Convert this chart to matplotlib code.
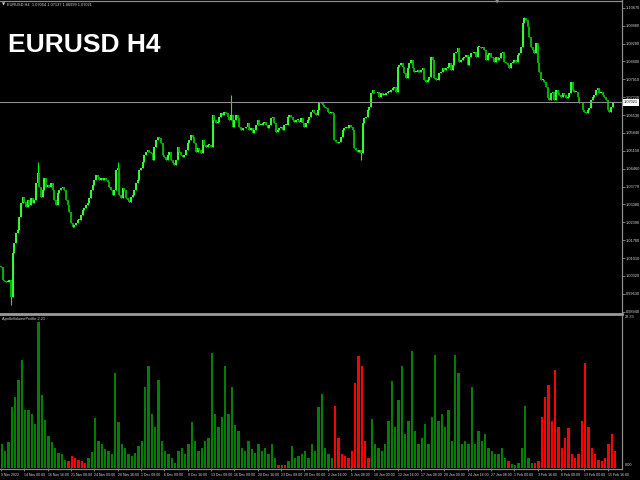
import matplotlib
matplotlib.use("Agg")
import matplotlib.pyplot as plt
from matplotlib.lines import Line2D
import numpy as np

# ---------------- data (closes, left to right) ----------------
# first half of the chart: closes at the even read positions and at the odd ones
part1_even = [
    1.0067, 1.0014, 1.0010, 0.9952, 1.0158, 1.0209, 1.0312, 1.0318, 1.0325, 1.0331,
    1.0325, 1.0428, 1.0338, 1.0409, 1.0383, 1.0389, 1.0325, 1.0351, 1.0370, 1.0364,
    1.0306, 1.0235, 1.0229, 1.0248, 1.0267, 1.0293, 1.0312, 1.0364, 1.0402, 1.0415,
    1.0409, 1.0409, 1.0396, 1.0364, 1.0364, 1.0447, 1.0331, 1.0364, 1.0325, 1.0338,
    1.0364, 1.0402, 1.0447, 1.0499, 1.0518, 1.0505, 1.0531, 1.0569, 1.0544, 1.0492,
    1.0499, 1.0479, 1.0460, 1.0531, 1.0499, 1.0499, 1.0544, 1.0576, 1.0544, 1.0525,
    1.0505, 1.0537, 1.0537, 1.0531, 1.0634, 1.0627, 1.0660, 1.0666, 1.0647, 1.0653,
    1.0634, 1.0640, 1.0595, 1.0602, 1.0621, 1.0602, 1.0595, 1.0634, 1.0615, 1.0627,
    1.0602, 1.0640, 1.0621, 1.0595, 1.0608, 1.0615, 1.0647, 1.0647, 1.0627, 1.0634,
    1.0640, 1.0608, 1.0634, 1.0666, 1.0660, 1.0672, 1.0698,
]
part1_odd = [
    1.0016, 1.0010, 1.0016, 1.0119, 1.0196, 1.0261, 1.0338, 1.0299, 1.0306, 1.0312,
    1.0389, 1.0376, 1.0364, 1.0376, 1.0376, 1.0364, 1.0306, 1.0364, 1.0376, 1.0325,
    1.0280, 1.0222, 1.0235, 1.0248, 1.0286, 1.0306, 1.0331, 1.0383, 1.0422, 1.0402,
    1.0402, 1.0402, 1.0376, 1.0344, 1.0441, 1.0344, 1.0370, 1.0331, 1.0318, 1.0344,
    1.0389, 1.0441, 1.0473, 1.0511, 1.0511, 1.0479, 1.0557, 1.0563, 1.0499, 1.0479,
    1.0511, 1.0467, 1.0479, 1.0511, 1.0492, 1.0518, 1.0557, 1.0569, 1.0511, 1.0518,
    1.0557, 1.0531, 1.0537, 1.0653, 1.0621, 1.0647, 1.0653, 1.0660, 1.0634, 1.0608,
    1.0653, 1.0608, 1.0602, 1.0608, 1.0595, 1.0582, 1.0615, 1.0615, 1.0621, 1.0615,
    1.0615, 1.0647, 1.0589, 1.0602, 1.0595, 1.0615, 1.0653, 1.0634, 1.0634, 1.0627,
    1.0621, 1.0621, 1.0647, 1.0672, 1.0653, 1.0704,
]
# second half
part2_odd = [
    1.0692, 1.0679, 1.0660, 1.0660, 1.0550, 1.0550, 1.0595, 1.0608, 1.0615, 1.0595,
    1.0518, 1.0518, 1.0621, 1.0647, 1.0685, 1.0750, 1.0737, 1.0724, 1.0730, 1.0737,
    1.0743, 1.0756, 1.0743, 1.0846, 1.0840, 1.0795, 1.0853, 1.0833, 1.0820, 1.0820,
    1.0833, 1.0782, 1.0801, 1.0865, 1.0788, 1.0814, 1.0833, 1.0833, 1.0853, 1.0846,
    1.0897, 1.0859, 1.0872, 1.0885, 1.0878, 1.0891, 1.0878, 1.0917, 1.0917, 1.0865,
    1.0891, 1.0872, 1.0878, 1.0872, 1.0897, 1.0853, 1.0833, 1.0859, 1.0859, 1.0891,
    1.1007, 1.1020, 1.0955, 1.0904, 1.0930, 1.0820, 1.0788, 1.0762, 1.0711, 1.0743,
    1.0750, 1.0730, 1.0737, 1.0718, 1.0737, 1.0750, 1.0743, 1.0698, 1.0672, 1.0660,
    1.0679, 1.0724, 1.0750, 1.0737, 1.0730, 1.0711, 1.0666, 1.0704,
]
part2_even = [
    1.0685, 1.0666, 1.0666, 1.0557, 1.0544, 1.0569, 1.0602, 1.0602, 1.0608, 1.0525,
    1.0511, 1.0505, 1.0640, 1.0672, 1.0737, 1.0737, 1.0743, 1.0737, 1.0730, 1.0743,
    1.0750, 1.0762, 1.0840, 1.0853, 1.0814, 1.0833, 1.0865, 1.0820, 1.0827, 1.0827,
    1.0788, 1.0788, 1.0878, 1.0795, 1.0788, 1.0820, 1.0827, 1.0840, 1.0827, 1.0891,
    1.0911, 1.0865, 1.0878, 1.0846, 1.0891, 1.0897, 1.0917, 1.0911, 1.0904, 1.0885,
    1.0878, 1.0859, 1.0865, 1.0891, 1.0859, 1.0846, 1.0853, 1.0865, 1.0885, 1.0917,
    1.1026, 1.0994, 1.0917, 1.0891, 1.0853, 1.0788, 1.0782, 1.0718, 1.0737, 1.0711,
    1.0737, 1.0724, 1.0730, 1.0724, 1.0782, 1.0743, 1.0724, 1.0698, 1.0666, 1.0672,
    1.0711, 1.0730, 1.0756, 1.0743, 1.0724, 1.0672, 1.0685, 1.0702,
]
first_open = 1.0070

# a few visible long wicks: bar index -> extreme price
wick_index = [6, 22, 70, 138, 216, 314]
wick_price = [0.9920, 1.0473, 1.0470, 1.0730, 1.0479, 1.1030]

volume = [
    3.5, 2.5, 3.8, 9.0, 10.5, 13.0, 16.0, 8.5, 8.5, 8.0,
    6.5, 21.6, 10.8, 7.1, 4.8, 3.8, 3.0, 2.2, 2.0, 1.2,
    1.0, 1.8, 1.5, 1.2, 1.0, 0.8, 1.5, 2.3, 7.4, 4.0,
    3.5, 2.8, 2.5, 2.0, 14.0, 6.8, 3.5, 3.0, 2.0, 1.8,
    2.2, 3.2, 4.0, 12.0, 15.0, 8.0, 6.0, 13.0, 4.0, 2.5,
    2.0, 1.5, 0.8, 2.5, 3.0, 2.0, 3.5, 6.8, 4.0, 2.5,
    3.0, 4.0, 4.5, 17.0, 8.0, 6.0, 7.5, 15.0, 8.0, 12.0,
    6.3, 5.5, 3.0, 2.5, 4.0, 2.8, 2.2, 3.5, 2.5, 3.0,
    2.0, 3.5, 1.5, 0.5, 0.4, 0.5, 1.0, 3.3, 1.5, 1.8,
    2.0, 2.5, 1.5, 3.6, 2.5, 9.0, 11.0, 3.0, 2.0, 1.5,
    9.1, 4.5, 2.0, 1.8, 1.5, 2.5, 12.5, 16.5, 15.0, 4.0,
    1.5, 7.2, 3.5, 3.0, 2.5, 3.5, 7.0, 12.9, 6.0, 10.0,
    15.0, 5.0, 7.0, 17.3, 5.5, 3.5, 4.5, 6.5, 3.5, 7.5,
    16.7, 7.0, 8.0, 6.0, 8.5, 4.0, 16.7, 14.0, 3.5, 4.0,
    3.5, 12.0, 3.5, 5.5, 4.0, 5.0, 3.0, 2.5, 2.0, 2.0,
    3.0, 1.5, 1.0, 0.6, 0.4, 0.8, 3.0, 9.1, 1.5, 0.8,
    0.8, 1.0, 7.5, 10.5, 12.3, 7.0, 14.5, 6.0, 3.0, 4.5,
    5.9, 2.0, 1.5, 2.0, 7.0, 15.5, 6.0, 3.0, 2.0, 1.2,
    1.0, 1.5, 3.5, 5.0, 2.5,
]
red_ranges = [(20, 25), (83, 83), (85, 85), (100, 110), (152, 152), (160, 184)]

price_ticks = [1.10670, 1.09980, 1.09290, 1.08600, 1.07910, 1.07220, 1.06530,
               1.05840, 1.05150, 1.04460, 1.03770, 1.03080, 1.02390, 1.01700,
               1.01010, 1.00320, 0.99630, 0.98940]
current_price = 1.07021

date_labels = ["9 Nov 2022", "14 Nov 00:00", "16 Nov 16:00", "21 Nov 08:00",
               "24 Nov 00:00", "28 Nov 16:00", "1 Dec 08:00", "6 Dec 00:00",
               "8 Dec 16:00", "13 Dec 08:00", "16 Dec 00:00", "20 Dec 16:00",
               "23 Dec 08:00", "28 Dec 00:00", "2 Jan 16:00", "5 Jan 08:00",
               "10 Jan 00:00", "12 Jan 16:00", "17 Jan 08:00", "20 Jan 00:00",
               "24 Jan 16:00", "27 Jan 08:00", "1 Feb 00:00", "3 Feb 16:00",
               "8 Feb 08:00", "13 Feb 00:00", "15 Feb 16:00"]
bars_per_label = 14

vol_max_label = "22.33"
header = "EURUSD,H4  1.07064 1.07137 1.06999 1.07021"
title = "EURUSD H4"
indicator_name = "ApolloVolumeProfile 2.21"

# ---------------- assemble price bars ----------------
closes = [v for pair in zip(part1_even[:-1], part1_odd) for v in pair] + [part1_even[-1]]
closes += [v for pair in zip(part2_odd, part2_even) for v in pair]

# ---------------- figure ----------------
W, H = 640, 480
fig = plt.figure(figsize=(6.4, 4.8), dpi=100, facecolor="black")

def fx(px):
    return px / W

def fy(py):
    return 1 - py / H

axis_x = 622
price_top, price_bot = 0, 312
vol_top, vol_bot = 315, 468

ax = fig.add_axes([0, fy(price_bot), fx(axis_x), (price_bot - price_top) / H])
axv = fig.add_axes([0, fy(vol_bot), fx(axis_x), (vol_bot - vol_top) / H])

grey = "#8c8c8c"
txt = "#d9d9d9"
small = dict(fontsize=2.8, fontfamily="Liberation Sans")

n = len(closes)
idx = np.arange(n)
opens = [first_open] + closes[:-1]
highs = [max(o, c) for o, c in zip(opens, closes)]
lows = [min(o, c) for o, c in zip(opens, closes)]
for k, p in zip(wick_index, wick_price):
    highs[k] = max(highs[k], p)
    lows[k] = min(lows[k], p)

for a in (ax, axv):
    a.set_facecolor("black")
    for s in a.spines.values():
        s.set_visible(False)

# candles
ax.vlines(idx, lows, highs, colors="#00ff00", linewidth=0.8)
up = [c >= o for o, c in zip(opens, closes)]
body_lo = [min(o, c) for o, c in zip(opens, closes)]
body_hi = [max(max(o, c), min(o, c) + 0.00025) for o, c in zip(opens, closes)]
ax.vlines(idx, body_lo, body_hi,
          colors=["#33ff33" if u else "#00b000" for u in up], linewidth=1.4)

xlim = (-0.6, 372.6)
ax.set_xlim(*xlim)
ax.set_ylim(0.98927, 1.1097)
ax.axhline(current_price, color=grey, linewidth=0.8)

ax.set_xticks([])
ax.yaxis.tick_right()
ax.set_yticks(price_ticks)
ax.set_yticklabels([f"{v:.5f}" for v in price_ticks])
ax.tick_params(axis="y", colors=grey, labelcolor=txt, labelsize=2.8,
               length=2.2, width=0.6, pad=0.8, direction="out")
for lab in ax.get_yticklabels():
    lab.set_fontfamily("Liberation Sans")

# current price box
ax.text(1.0 + 1.5 / axis_x, current_price, f"{current_price:.5f}",
        transform=ax.get_yaxis_transform(), color="black",
        va="center", ha="left",
        bbox=dict(boxstyle="square,pad=0.35", fc="white", ec="white", lw=0),
        **small)

# volume histogram (one volume bar per two price bars)
red = set()
for a0, a1 in red_ranges:
    red.update(range(a0, a1 + 1))
vcols = ["#ff0000" if i in red else "#008000" for i in range(len(volume))]
axv.bar(np.arange(len(volume)) * 2 + 0.5, volume, width=1.4, color=vcols, linewidth=0)
axv.set_xlim(*xlim)
axv.set_ylim(0, 22.6)
axv.set_yticks([])
tick_pos = [k * bars_per_label for k in range(len(date_labels))]
axv.set_xticks(tick_pos)
axv.set_xticklabels(date_labels)
axv.tick_params(axis="x", colors=grey, labelcolor=txt, labelsize=2.5,
                length=2.5, width=0.6, pad=0.8, direction="out")
for lab in axv.get_xticklabels():
    lab.set_horizontalalignment("left")
    lab.set_fontfamily("Liberation Sans")

axv.text(1.0 + 3 / axis_x, 1.0 - 2 / (vol_bot - vol_top), vol_max_label,
         transform=axv.transAxes, color=txt, va="center", ha="left", **small)
axv.text(1.0 + 3 / axis_x, 0.02, "0.00",
         transform=axv.transAxes, color=txt, va="center", ha="left", **small)
axv.text(2 / axis_x, 1 - 2 / (vol_bot - vol_top), indicator_name,
         transform=axv.transAxes, color=txt, va="top", ha="left", **small)

# frame lines (figure coordinates)
def fline(x0, y0, x1, y1, lw, c=grey):
    fig.add_artist(Line2D([fx(x0), fx(x1)], [fy(y0), fy(y1)], color=c,
                          linewidth=lw, transform=fig.transFigure))

fline(0, 0.5, axis_x, 0.5, 0.9)
fline(axis_x, 0, axis_x, 469, 0.9)
fline(0, 313.5, axis_x, 313.5, 2.0, "#9a9a9a")
fline(0, 468.8, axis_x, 468.8, 0.9)

# shift marker
fig.text(fx(497), fy(1.5), "▼", fontsize=4, color=grey, ha="center", va="center",
         fontfamily="DejaVu Sans")

# header and title
fig.text(fx(2), fy(5), "▼", fontsize=3.0, color=txt, ha="left", va="center",
         fontfamily="DejaVu Sans")
fig.text(fx(7), fy(5), header, color=txt, ha="left", va="center", **small)
fig.text(fx(8), fy(52.5), title, fontsize=19, fontweight="bold", color="white",
         fontfamily="Liberation Sans", ha="left", va="baseline")

fig.savefig("out.png", dpi=100, facecolor="black")
